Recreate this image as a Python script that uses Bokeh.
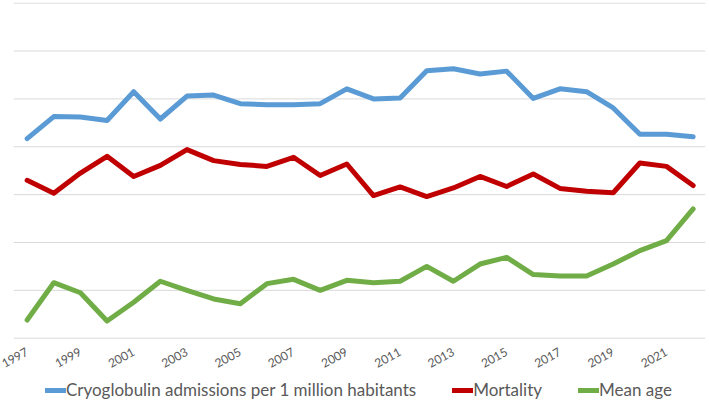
from bokeh.plotting import figure
from bokeh.models import FixedTicker, Legend, LegendItem, Range1d
from bokeh.embed import file_html
from bokeh.resources import INLINE

years = list(range(1997, 2023))
admissions = [4.17, 4.63, 4.62, 4.55, 5.15, 4.58, 5.06, 5.08, 4.90, 4.88, 4.88, 4.90, 5.21,
              5.00, 5.02, 5.59, 5.63, 5.52, 5.58, 5.01, 5.21, 5.15, 4.81, 4.26, 4.26, 4.21]
mortality = [3.30, 3.03, 3.45, 3.80, 3.38, 3.61, 3.94, 3.71, 3.63, 3.59, 3.78, 3.40, 3.64,
             2.98, 3.16, 2.96, 3.14, 3.38, 3.17, 3.43, 3.13, 3.07, 3.04, 3.66, 3.59, 3.19]
mean_age = [0.38, 1.16, 0.95, 0.36, 0.75, 1.19, 1.00, 0.82, 0.72, 1.14, 1.23, 1.00, 1.21,
            1.16, 1.19, 1.50, 1.19, 1.55, 1.69, 1.33, 1.30, 1.30, 1.55, 1.83, 2.04, 2.70]
tick_years = list(range(1997, 2022, 2))
grid_values = list(range(0, 8))
series_names = ["Cryoglobulin admissions per 1 million habitants", "Mortality", "Mean age"]
colors = ["#5B9BD5", "#C00000", "#70AD47"]

FONT = "Lato"
X_START, X_END = 1996.0, 2022.464
GRID_X0 = 1996.5

p = figure(width=709, height=403, frame_width=705, frame_height=401,
           output_backend="svg", toolbar_location=None,
           x_range=Range1d(X_START, X_END), y_range=Range1d(-1.364, 7.014),
           min_border_left=0, min_border_right=4, min_border_top=2, min_border_bottom=0)
p.outline_line_color = None
p.yaxis.visible = False
p.xgrid.visible = False
p.ygrid.visible = False

# horizontal gridlines (start at the left edge of the plot area, like the original)
p.segment(x0=GRID_X0, x1=X_END, y0=grid_values, y1=grid_values,
          line_color="#D9D9D9", line_width=1)

p.xaxis.fixed_location = 0
p.xaxis.ticker = FixedTicker(ticks=tick_years)
p.xaxis.axis_line_color = None
p.xaxis.major_tick_line_color = None
p.xaxis.minor_tick_line_color = None
p.xaxis.major_tick_out = 0
p.xaxis.major_tick_in = 0
p.xaxis.major_label_orientation = 0.5
p.xaxis.major_label_text_font = FONT
p.xaxis.major_label_text_font_size = "12px"
p.xaxis.major_label_text_color = "#595959"
p.xaxis.major_label_standoff = 13

renderers = []
for vals, c in zip([admissions, mortality, mean_age], colors):
    r = p.line(years, vals, line_color=c, line_width=5, line_join="round", line_cap="round")
    renderers.append(r)

legend = Legend(items=[LegendItem(label=n, renderers=[r]) for n, r in zip(series_names, renderers)],
                orientation="horizontal", location=(45, 3))
legend.label_text_font = FONT
legend.label_text_font_size = "17px"
legend.label_text_color = "#595959"
legend.glyph_width = 21
legend.glyph_height = 18
legend.label_height = 18
legend.label_standoff = 0
legend.spacing = 36
legend.padding = 0
legend.margin = 0
legend.border_line_color = None
legend.background_fill_alpha = 0
p.add_layout(legend, "center")

open("out.html", "w").write(file_html(p, INLINE))
